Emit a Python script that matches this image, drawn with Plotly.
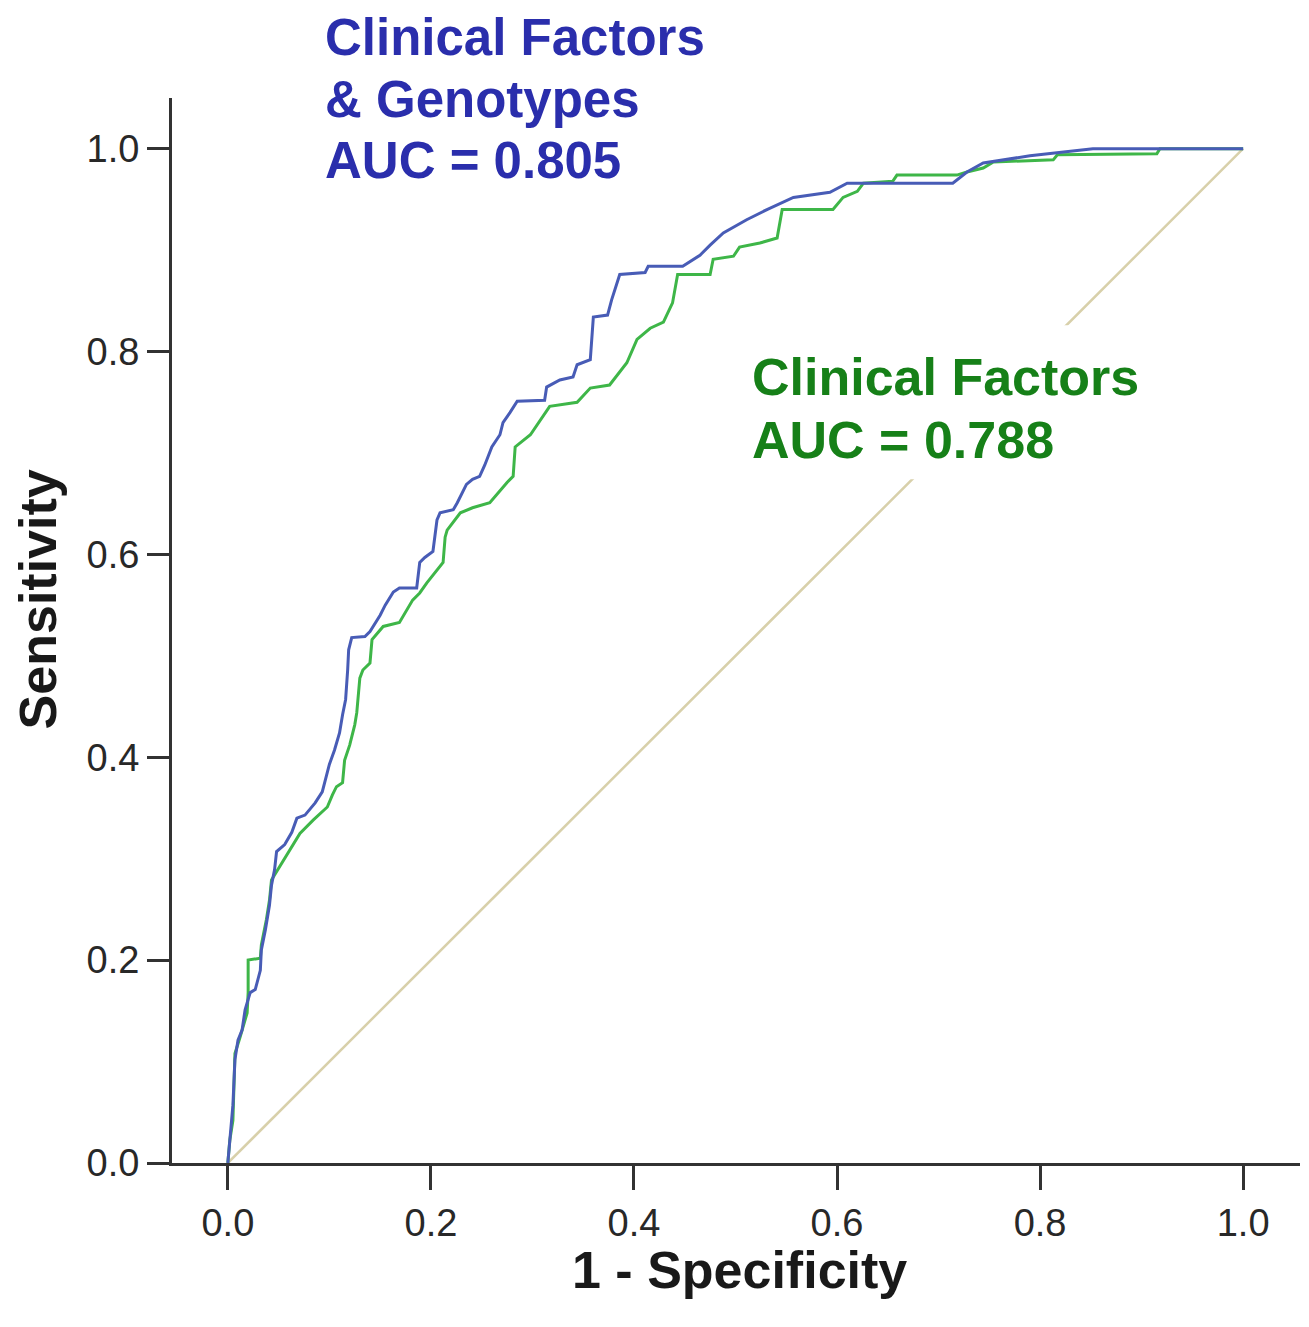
import plotly.graph_objects as go

# ROC curve for Clinical Factors & Genotypes (1 - specificity, sensitivity)
combo_fpr = [0.000, 0.003, 0.005, 0.007, 0.010, 0.014, 0.017, 0.022, 0.027, 0.032, 0.033, 0.037,
             0.041, 0.043, 0.046, 0.048, 0.056, 0.063, 0.068, 0.076, 0.086, 0.093, 0.096, 0.100,
             0.105, 0.110, 0.113, 0.116, 0.118, 0.119, 0.122, 0.135, 0.140, 0.150, 0.155, 0.163,
             0.169, 0.186, 0.189, 0.194, 0.202, 0.206, 0.209, 0.222, 0.226, 0.235, 0.241, 0.248,
             0.253, 0.260, 0.268, 0.271, 0.278, 0.285, 0.312, 0.314, 0.327, 0.340, 0.344, 0.357,
             0.360, 0.374, 0.378, 0.386, 0.411, 0.414, 0.448, 0.465, 0.475, 0.488, 0.511, 0.531,
             0.557, 0.593, 0.610, 0.655, 0.714, 0.728, 0.744, 0.790, 0.852, 1.000]
combo_tpr = [0.000, 0.033, 0.057, 0.102, 0.121, 0.131, 0.151, 0.168, 0.171, 0.190, 0.210, 0.230,
             0.254, 0.274, 0.289, 0.307, 0.314, 0.326, 0.340, 0.343, 0.355, 0.366, 0.378, 0.393,
             0.407, 0.424, 0.442, 0.457, 0.486, 0.506, 0.518, 0.519, 0.524, 0.540, 0.550, 0.563,
             0.567, 0.567, 0.592, 0.597, 0.603, 0.634, 0.641, 0.644, 0.651, 0.669, 0.674, 0.677,
             0.688, 0.706, 0.718, 0.730, 0.740, 0.751, 0.752, 0.765, 0.772, 0.775, 0.787, 0.792,
             0.834, 0.836, 0.851, 0.876, 0.878, 0.884, 0.884, 0.895, 0.905, 0.917, 0.930, 0.940,
             0.952, 0.957, 0.966, 0.966, 0.966, 0.977, 0.986, 0.993, 1.000, 1.000]

# ROC curve for Clinical Factors only
clin_fpr = [0.000, 0.002, 0.005, 0.007, 0.012, 0.019, 0.020, 0.020, 0.032, 0.033, 0.038, 0.041,
            0.043, 0.049, 0.054, 0.061, 0.071, 0.084, 0.098, 0.103, 0.107, 0.113, 0.115, 0.120,
            0.125, 0.127, 0.130, 0.133, 0.140, 0.142, 0.153, 0.169, 0.182, 0.189, 0.196, 0.212,
            0.214, 0.216, 0.226, 0.229, 0.241, 0.258, 0.275, 0.281, 0.283, 0.298, 0.317, 0.344,
            0.357, 0.376, 0.393, 0.403, 0.416, 0.429, 0.438, 0.443, 0.475, 0.478, 0.498, 0.504,
            0.524, 0.541, 0.546, 0.596, 0.606, 0.620, 0.626, 0.655, 0.659, 0.718, 0.728, 0.744,
            0.754, 0.813, 0.817, 0.915, 0.918, 1.000]
clin_tpr = [0.000, 0.023, 0.042, 0.108, 0.124, 0.148, 0.168, 0.200, 0.202, 0.215, 0.240, 0.259,
            0.279, 0.289, 0.296, 0.309, 0.325, 0.338, 0.351, 0.363, 0.371, 0.375, 0.397, 0.412,
            0.432, 0.444, 0.478, 0.486, 0.493, 0.516, 0.529, 0.533, 0.555, 0.562, 0.572, 0.592,
            0.617, 0.624, 0.637, 0.641, 0.646, 0.651, 0.671, 0.677, 0.706, 0.718, 0.746, 0.750,
            0.764, 0.767, 0.789, 0.812, 0.823, 0.829, 0.848, 0.876, 0.876, 0.891, 0.894, 0.903,
            0.907, 0.912, 0.940, 0.940, 0.952, 0.958, 0.966, 0.968, 0.974, 0.974, 0.977, 0.981,
            0.987, 0.989, 0.994, 0.995, 1.000, 1.000]

ref_line = [0.0, 1.0]
tick_vals = [0.0, 0.2, 0.4, 0.6, 0.8, 1.0]
tick_text = ["0.0", "0.2", "0.4", "0.6", "0.8", "1.0"]

combo_label = ["Clinical Factors", "& Genotypes", "AUC = 0.805"]
clin_label = ["Clinical Factors", "AUC = 0.788"]
x_title = "1 - Specificity"
y_title = "Sensitivity"

BLUE_LINE = "rgb(72,92,182)"
GREEN_LINE = "rgb(62,182,72)"
BLUE_TEXT = "rgb(42,46,172)"
GREEN_TEXT = "rgb(22,128,24)"
AXIS = "rgb(50,50,50)"
FONT = "Liberation Sans, Arial, sans-serif"

fig = go.Figure()
fig.add_trace(go.Scatter(x=ref_line, y=ref_line, mode="lines",
                         line=dict(color="rgb(216,208,170)", width=2.5), hoverinfo="skip"))
fig.add_trace(go.Scatter(x=clin_fpr, y=clin_tpr, mode="lines",
                         line=dict(color=GREEN_LINE, width=3)))
fig.add_trace(go.Scatter(x=combo_fpr, y=combo_tpr, mode="lines",
                         line=dict(color=BLUE_LINE, width=3)))

# white box behind the Clinical Factors label (hides the reference line there)
fig.add_shape(type="rect", xref="x", yref="y", x0=0.480, x1=0.928, y0=0.674, y1=0.826,
              fillcolor="white", line=dict(width=0), layer="above")

annotations = []
for txt, yv in zip(combo_label, [1.057, 0.999, 0.941]):
    annotations.append(dict(x=0.134, y=yv, xref="paper", yref="paper", text="<b>" + txt + "</b>",
                            showarrow=False, xanchor="left", yanchor="middle",
                            font=dict(family=FONT, size=51, color=BLUE_TEXT)))
for txt, yv in zip(clin_label, [0.738, 0.679]):
    annotations.append(dict(x=0.512, y=yv, xref="paper", yref="paper", text="<b>" + txt + "</b>",
                            showarrow=False, xanchor="left", yanchor="middle",
                            font=dict(family=FONT, size=52, color=GREEN_TEXT)))
annotations.append(dict(x=-0.119, y=0.529, xref="paper", yref="paper", text="<b>" + y_title + "</b>",
                        showarrow=False, textangle=-90, xanchor="center", yanchor="middle",
                        font=dict(family=FONT, size=52, color="rgb(25,25,25)")))
annotations.append(dict(x=0.503, y=-0.1005, xref="paper", yref="paper", text="<b>" + x_title + "</b>",
                        showarrow=False, xanchor="center", yanchor="middle",
                        font=dict(family=FONT, size=52, color="rgb(25,25,25)")))

fig.update_layout(
    width=1309, height=1327,
    margin=dict(l=172, r=9, t=98, b=164),
    paper_bgcolor="white", plot_bgcolor="white",
    showlegend=False,
    annotations=annotations,
    xaxis=dict(range=[-0.055, 1.056], showgrid=False, zeroline=False,
               showline=True, linecolor=AXIS, linewidth=3,
               ticks="outside", ticklen=24, tickwidth=3, tickcolor=AXIS,
               tickvals=tick_vals, ticktext=tick_text,
               tickfont=dict(family=FONT, size=38, color="rgb(40,40,40)")),
    yaxis=dict(range=[0.0, 1.050], showgrid=False, zeroline=False,
               showline=True, linecolor=AXIS, linewidth=3,
               ticks="outside", ticklen=22, tickwidth=3, tickcolor=AXIS,
               tickvals=tick_vals, ticktext=tick_text,
               tickfont=dict(family=FONT, size=38, color="rgb(40,40,40)")),
)

fig.write_html("out.html", config={"displayModeBar": False},
               post_script="document.body.style.margin='0';")
